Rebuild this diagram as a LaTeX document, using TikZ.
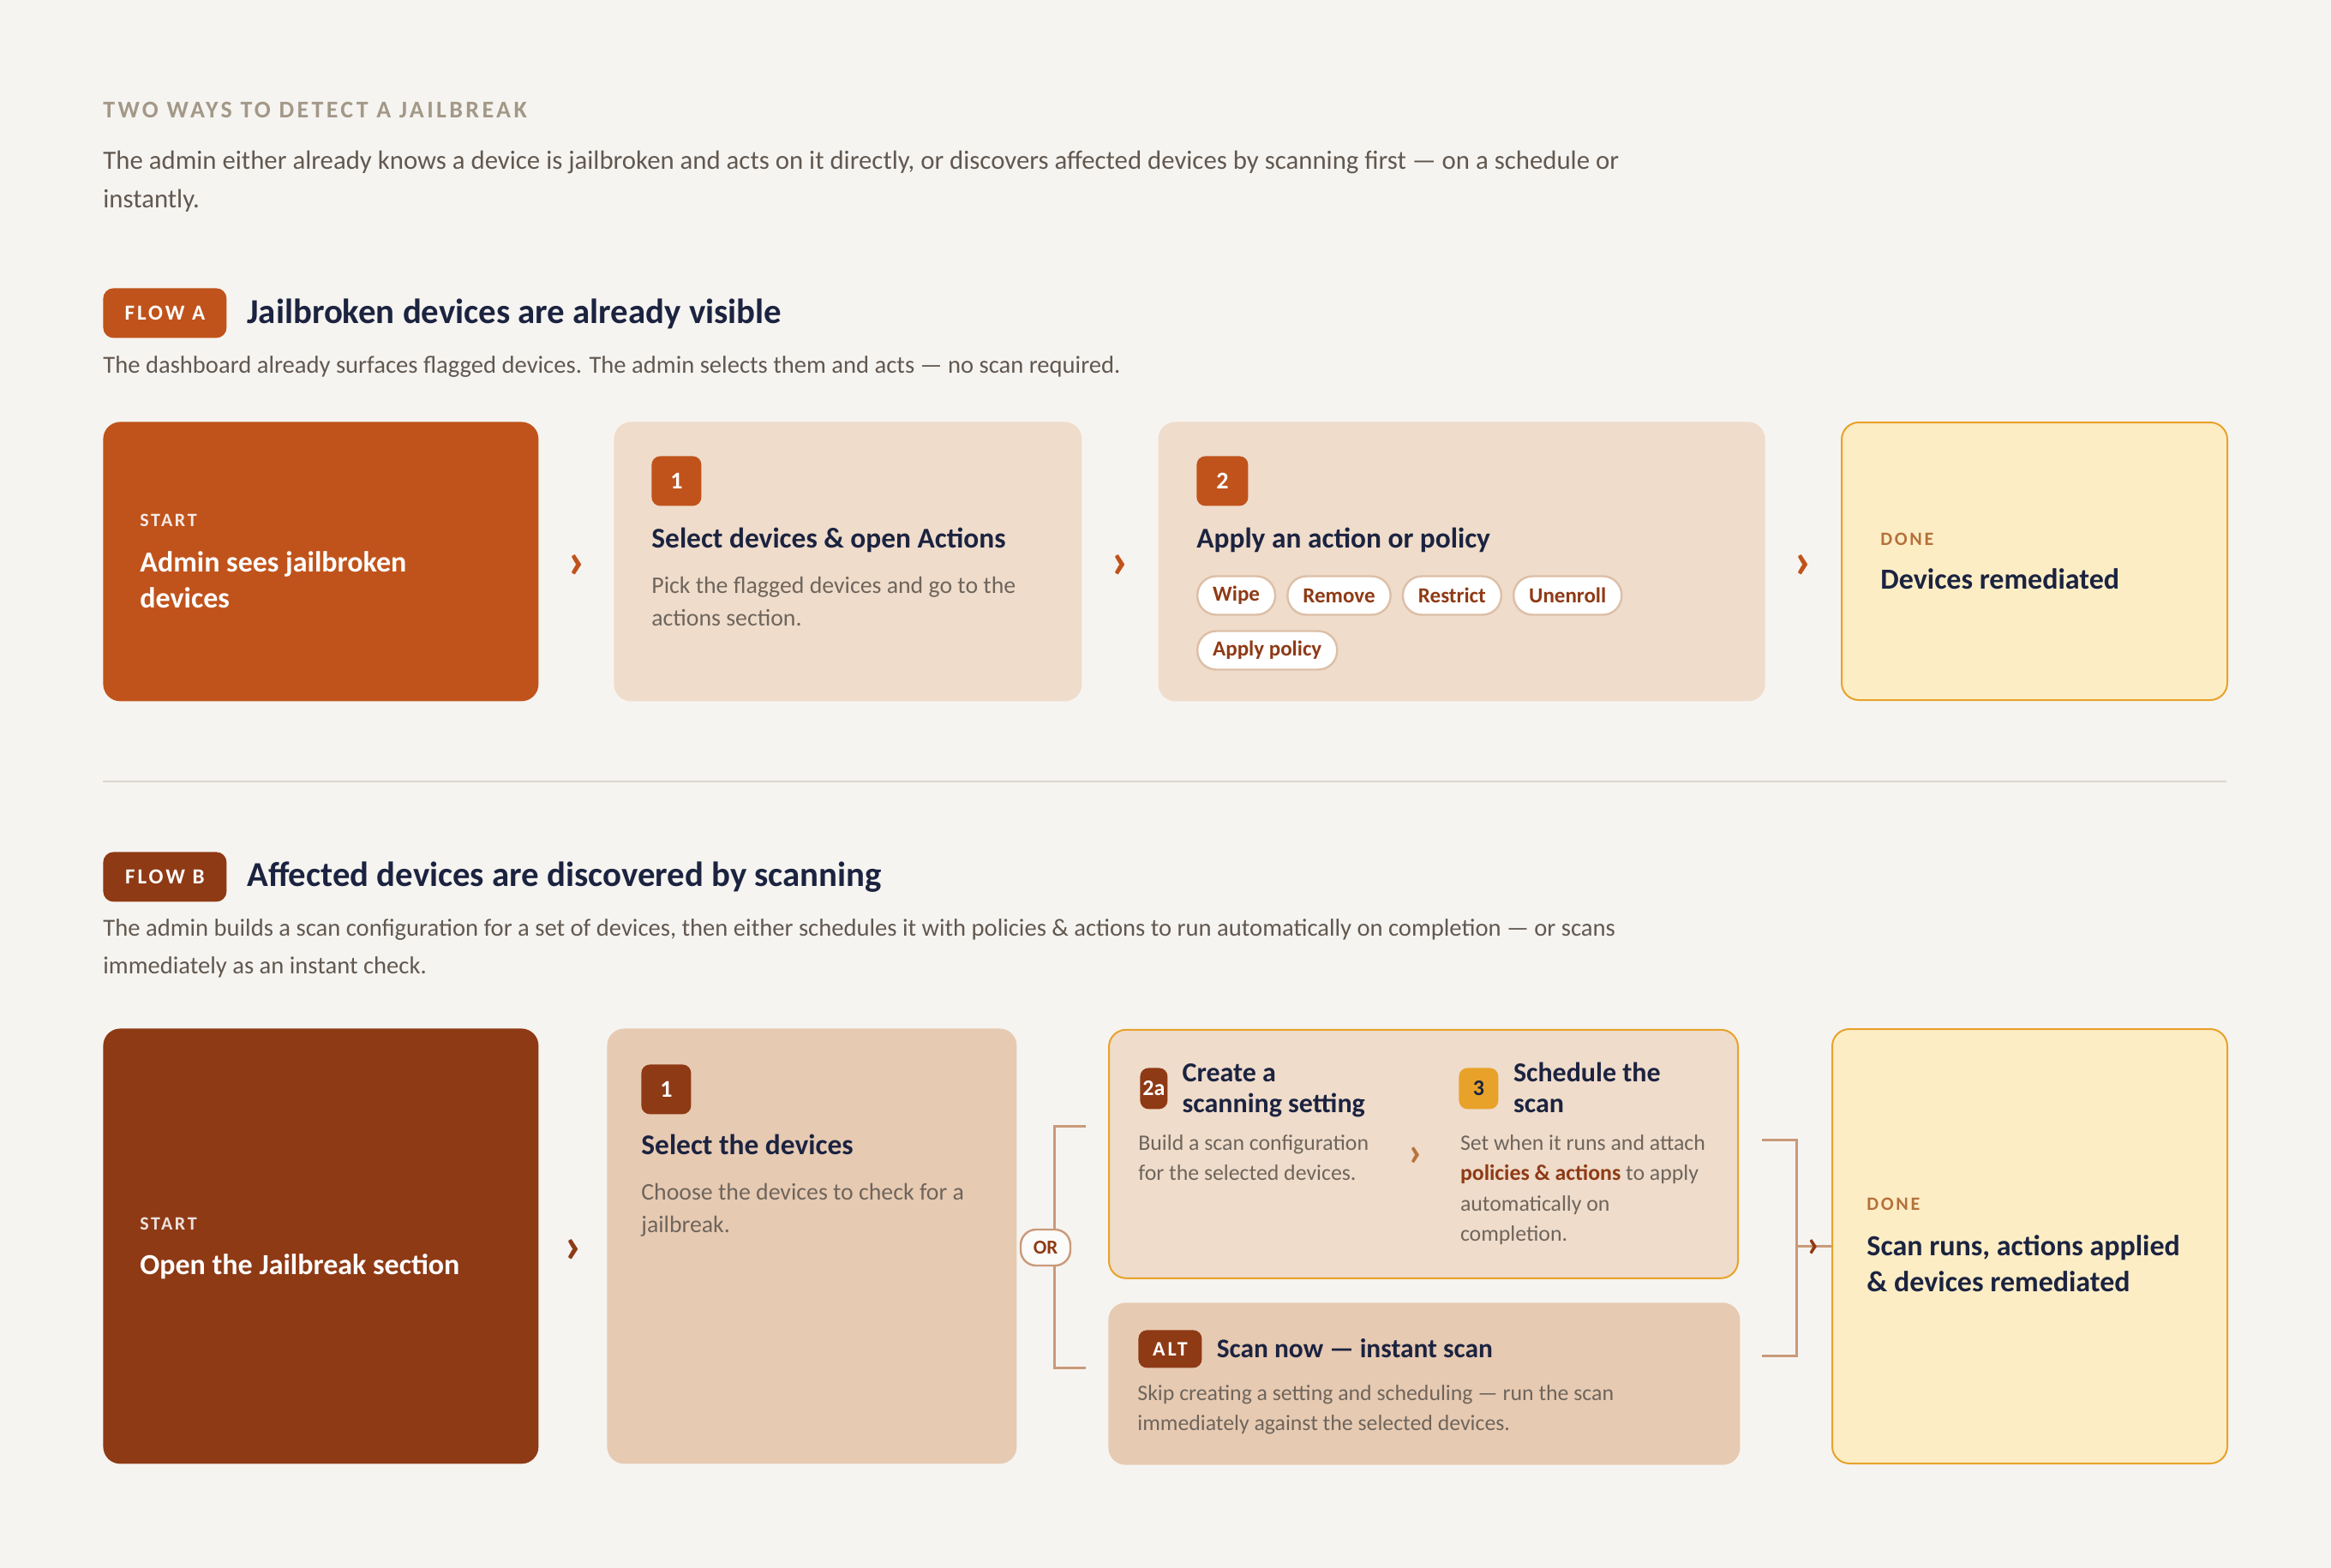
\documentclass[tikz,border=0pt]{standalone}
\usepackage{fontspec}
\setmainfont{Carlito}
\newfontfamily\trackfont[LetterSpace=12]{Carlito}
\usetikzlibrary{positioning,calc}

\definecolor{paper}{HTML}{F6F4F0}
\definecolor{ember}{HTML}{C0531B}
\definecolor{rust}{HTML}{8E3A15}
\definecolor{sand}{HTML}{EFDCCB}
\definecolor{clay}{HTML}{E7CAB2}
\definecolor{cream}{HTML}{FCEDC5}
\definecolor{amber}{HTML}{E8A22A}
\definecolor{navy}{HTML}{1B2340}
\definecolor{muted}{HTML}{A39888}
\definecolor{prose}{HTML}{615850}
\definecolor{soft}{HTML}{6E655C}
\definecolor{chipline}{HTML}{DDBFA7}
\definecolor{brace}{HTML}{C99A7A}
\definecolor{donelbl}{HTML}{B5713A}
\definecolor{chevlight}{HTML}{B8733A}
\definecolor{rule}{HTML}{DCD6CE}

\begin{document}
\begin{tikzpicture}[x=1pt, y=-1pt,
  card/.style={rounded corners=10pt, inner sep=0pt, anchor=north west},
  badge/.style={rounded corners=5pt, inner sep=0pt, anchor=north west, text=white,
    font=\bfseries\fontsize{14}{14}\selectfont},
  flowtag/.style={badge, minimum width=72pt, minimum height=29pt, rounded corners=6pt,
    font=\trackfont\bfseries\fontsize{12.5}{13}\selectfont},
  chip/.style={draw=chipline, line width=1.2pt, fill=white, rounded corners=11pt,
    minimum height=22.5pt, inner xsep=9pt, inner ysep=0pt, text=rust,
    font=\bfseries\fontsize{12.5}{13}\selectfont},
  txt/.style={anchor=base west, inner sep=0pt},
  kicker/.style={txt, font=\trackfont\bfseries\fontsize{11}{13}\selectfont},
  headline/.style={txt, text=navy, font=\bfseries\fontsize{20.4}{24}\selectfont},
  lead/.style={txt, text=prose, font=\fontsize{15.4}{22.5}\selectfont},
  cardtitle/.style={txt, text=navy, font=\bfseries\fontsize{16.7}{21}\selectfont},
  bigtitle/.style={txt, text=navy, font=\bfseries\fontsize{17}{21}\selectfont},
  cardtext/.style={txt, text=soft, font=\fontsize{13.9}{19}\selectfont},
  smalltitle/.style={txt, text=navy, font=\bfseries\fontsize{16}{18.2}\selectfont},
  smalltext/.style={txt, text=soft, font=\fontsize{12.9}{17.8}\selectfont},
  chev/.style={inner sep=0pt, font=\bfseries\fontsize{30}{30}\selectfont},
  bracket/.style={draw=brace, line width=1.5pt}]

\useasboundingbox[fill=paper] (0,0) rectangle (1360,915);

% header
\node[txt, text=muted, font=\trackfont\bfseries\fontsize{14}{16}\selectfont] (kick) at (60,69)
  {TWO WAYS TO DETECT A JAILBREAK};
\node[lead] (intro) at (60,99) {\begin{tabular}[t]{@{}l@{}}
The admin either already knows a device is jailbroken and acts on it directly, or discovers affected devices by scanning first --- on a schedule or\\
instantly.\end{tabular}};

% flow A
\node[flowtag, fill=ember] (tagA) at (60,168) {FLOW A};
\node[headline] (headA) at (144,188.5) {Jailbroken devices are already visible};
\node[lead, font=\fontsize{14.3}{21.7}\selectfont] (subA) at (60,217.5)
  {The dashboard already surfaces flagged devices. The admin selects them and acts --- no scan required.};

\node[card, fill=ember, minimum width=254pt, minimum height=163pt] (startA) at (60,246) {};
\node[kicker, text=white!88!ember] (startAk) at (81.5,307) {START};
\node[bigtitle, text=white] (startAt) at (81.5,333.5)
  {\begin{tabular}[t]{@{}l@{}}Admin sees jailbroken\\ devices\end{tabular}};

\node[card, fill=sand, minimum width=273pt, minimum height=163pt] (stepA1) at (358,246) {};
\node[badge, fill=ember, minimum width=29pt, minimum height=29pt] (numA1) at (380,266) {1};
\node[cardtitle] (titA1) at (380,319.5) {Select devices \& open Actions};
\node[cardtext] (txtA1) at (380,346) {\begin{tabular}[t]{@{}l@{}}Pick the flagged devices and go to the\\ actions section.\end{tabular}};

\node[card, fill=sand, minimum width=354pt, minimum height=163pt] (stepA2) at (675.6,246) {};
\node[badge, fill=ember, minimum width=30pt, minimum height=29pt] (numA2) at (698,266) {2};
\node[cardtitle] (titA2) at (698,319.5) {Apply an action or policy};
\node[chip, anchor=west] (wipe) at (698,347.5) {Wipe};
\node[chip, right=6pt of wipe] (remove) {Remove};
\node[chip, right=6pt of remove] (restrict) {Restrict};
\node[chip, right=6pt of restrict] (unenroll) {Unenroll};
\node[chip, anchor=west] (applypol) at (698,379.5) {Apply policy};

\node[card, draw=amber, line width=1pt, fill=cream, minimum width=225pt, minimum height=162pt] (doneA) at (1074,246) {};
\node[kicker, text=donelbl] (doneAk) at (1097,318) {DONE};
\node[bigtitle] (doneAt) at (1097,343.5) {Devices remediated};

\node[chev, text=ember] (chA1) at ($(startA.east)!0.5!(stepA1.west)+(0,3)$) {›};
\node[chev, text=ember] (chA2) at ($(stepA1.east)!0.5!(stepA2.west)+(0,3)$) {›};
\node[chev, text=ember] (chA3) at ($(stepA2.east)!0.5!(doneA.west)+(0,3)$) {›};

\draw[rule, line width=1pt] (60,456) -- (1299,456);

% flow B
\node[flowtag, fill=rust] (tagB) at (60,497) {FLOW B};
\node[headline] (headB) at (144,517) {Affected devices are discovered by scanning};
\node[lead, font=\fontsize{14.3}{22}\selectfont] (subB) at (60,546) {\begin{tabular}[t]{@{}l@{}}
The admin builds a scan configuration for a set of devices, then either schedules it with policies \& actions to run automatically on completion --- or scans\\
immediately as an instant check.\end{tabular}};

\node[card, fill=rust, minimum width=254pt, minimum height=254pt] (startB) at (60,600) {};
\node[kicker, text=white!85!rust] (startBk) at (81.5,717.5) {START};
\node[bigtitle, text=white] (startBt) at (81.5,743.5) {Open the Jailbreak section};

\node[card, fill=clay, minimum width=239pt, minimum height=254pt] (stepB1) at (354,600) {};
\node[badge, fill=rust, minimum width=29pt, minimum height=29pt] (numB1) at (374,621) {1};
\node[cardtitle] (titB1) at (374,673.5) {Select the devices};
\node[cardtext] (txtB1) at (374,700) {\begin{tabular}[t]{@{}l@{}}Choose the devices to check for a\\ jailbreak.\end{tabular}};

\node[card, draw=amber, line width=1pt, fill=sand, minimum width=367pt, minimum height=145pt] (groupB) at (646.5,600.4) {};
\node[badge, fill=rust, minimum width=16pt, minimum height=24pt, font=\bfseries\fontsize{13}{13}\selectfont] (numB2) at (665,623) {2a};
\node[smalltitle] (titB2) at (689.6,631) {\begin{tabular}[t]{@{}l@{}}Create a\\ scanning setting\end{tabular}};
\node[smalltext] (txtB2) at (664,671) {\begin{tabular}[t]{@{}l@{}}Build a scan configuration\\ for the selected devices.\end{tabular}};
\node[badge, fill=amber, text=navy, minimum width=23pt, minimum height=24pt, font=\bfseries\fontsize{13}{13}\selectfont] (numB3) at (851,623) {3};
\node[smalltitle] (titB3) at (882.8,631) {\begin{tabular}[t]{@{}l@{}}Schedule the\\ scan\end{tabular}};
\node[smalltext] (txtB3) at (851.8,671) {\begin{tabular}[t]{@{}l@{}}Set when it runs and attach\\
{\bfseries\color{rust}policies \& actions} to apply\\ automatically on\\ completion.\end{tabular}};
\node[chev, text=chevlight, font=\bfseries\fontsize{24}{24}\selectfont] (chB2) at (826,675) {›};

\node[card, fill=clay, minimum width=368.5pt, minimum height=94.6pt] (altB) at (646.5,760) {};
\node[badge, fill=rust, minimum width=37pt, minimum height=22pt, font=\trackfont\bfseries\fontsize{12}{12}\selectfont] (altTag) at (664,776) {ALT};
\node[smalltitle, font=\bfseries\fontsize{15.7}{19}\selectfont] (titAlt) at (709.7,792) {Scan now --- instant scan};
\node[smalltext] (txtAlt) at (663.5,817) {\begin{tabular}[t]{@{}l@{}}Skip creating a setting and scheduling --- run the scan\\ immediately against the selected devices.\end{tabular}};

\node[card, draw=amber, line width=1pt, fill=cream, minimum width=230.5pt, minimum height=253.5pt] (doneB) at (1068.5,600) {};
\node[kicker, text=donelbl] (doneBk) at (1089,706) {DONE};
\node[bigtitle] (doneBt) at (1089,732.5)
  {\begin{tabular}[t]{@{}l@{}}Scan runs, actions applied\\ \& devices remediated\end{tabular}};

% or-bracket and join-bracket
\coordinate (orTop) at (633.6,657);
\coordinate (orBot) at (633.6,798);
\draw[bracket] (orTop) -- (615,657) -- (615,798) -- (orBot);
\node[draw=brace, line width=1.2pt, fill=white!60!paper, rounded corners=9pt, minimum width=29pt, minimum height=21pt,
  inner sep=0pt, text=rust, font=\bfseries\fontsize{11.5}{12}\selectfont] (orB) at (610,728) {OR};

\coordinate (joinTop) at (1028,665);
\coordinate (joinBot) at (1028,791);
\coordinate (joinMid) at (doneB.west -| 1048,0);
\draw[bracket] (joinTop) -- (1048,665) -- (1048,791) -- (joinBot);
\draw[bracket] (joinMid) -- (doneB.west);

\node[chev, text=rust] (chB1) at ($(startB.east)!0.5!(stepB1.west)+(0,3)$) {›};
\node[chev, text=rust, font=\bfseries\fontsize{22}{22}\selectfont] (chB3) at ($(joinMid)!0.5!(doneB.west)+(0,1)$) {›};
\end{tikzpicture}
\end{document}
